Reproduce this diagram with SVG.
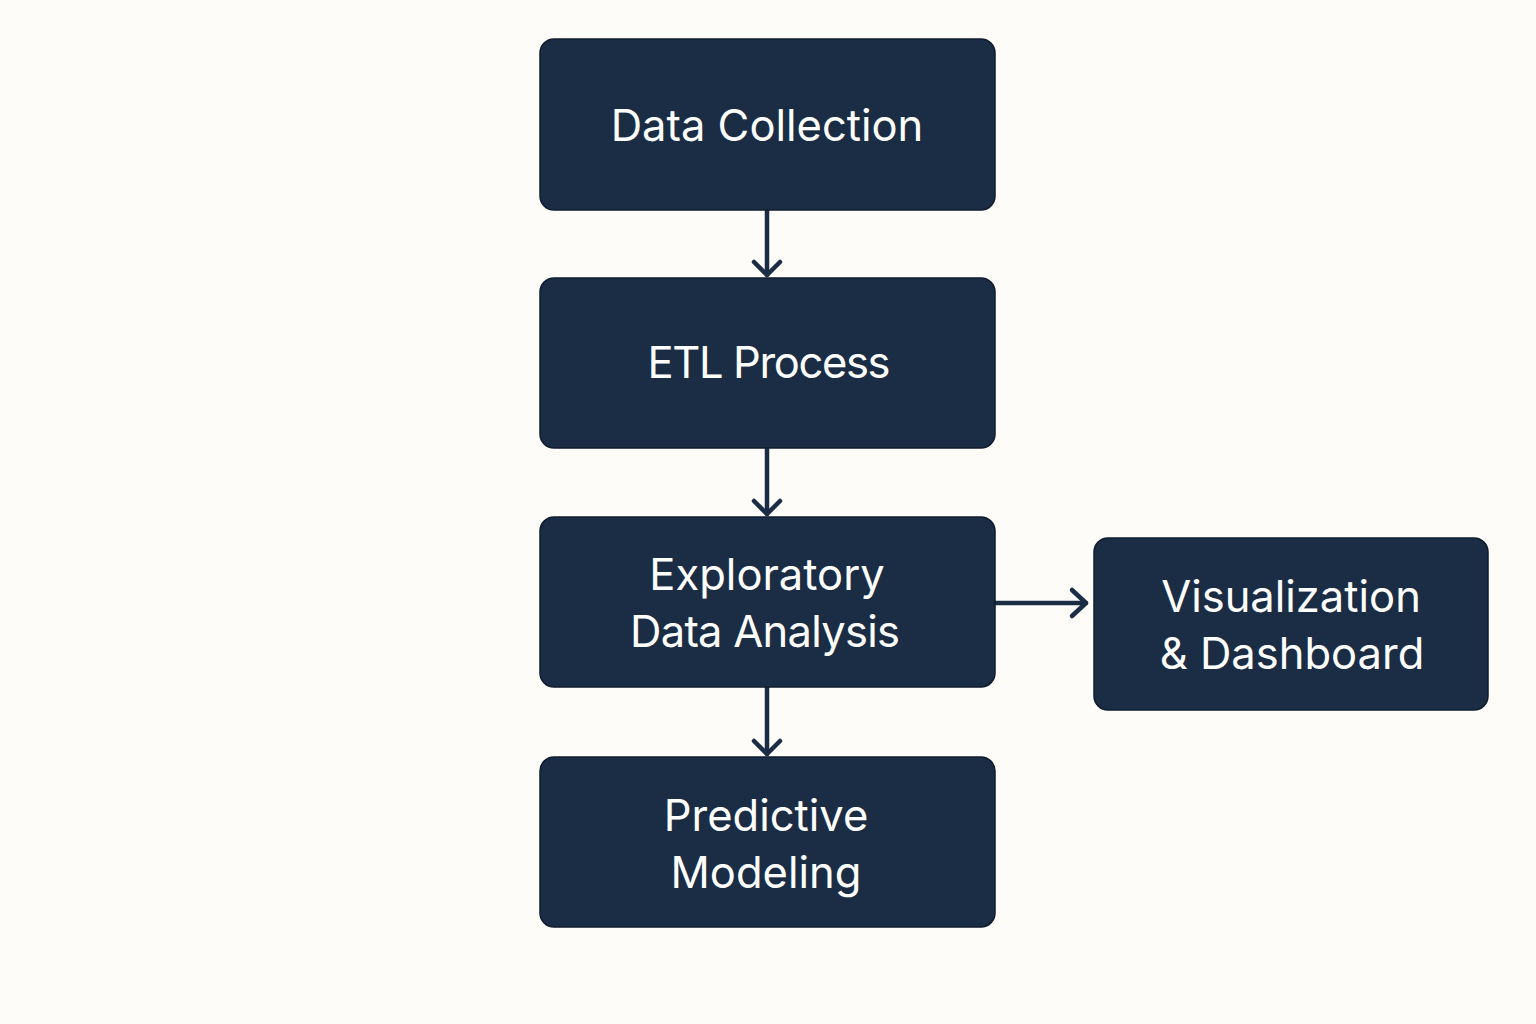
<svg xmlns="http://www.w3.org/2000/svg" width="1536" height="1024" viewBox="0 0 1536 1024">
<defs>
<style>
.box{fill:#1b2d45;stroke:#0f1c2e;stroke-width:1.5}
.lbl{fill:#ffffff;font-family:Inter,"Open Sans","Noto Sans",sans-serif;font-size:43.5px;text-anchor:middle}
.ln{stroke:#1b2d45;stroke-width:4.5;fill:none;stroke-linecap:round;stroke-linejoin:round}
</style>
</defs>
<rect width="1536" height="1024" fill="#fdfcf8"/>
<g id="connectors">
<path class="ln" d="M767 210 V275"/>
<path class="ln" d="M754 262 L767 275 L780 262"/>
<path class="ln" d="M767 448 V514"/>
<path class="ln" d="M754 501 L767 514 L780 501"/>
<path class="ln" d="M767 687 V754"/>
<path class="ln" d="M754 741 L767 754 L780 741"/>
<path class="ln" d="M995 603 H1086"/>
<path class="ln" d="M1072 590 L1086 603 L1072 616"/>
</g>
<g id="n1"><rect class="box" x="540" y="39" width="455" height="171" rx="14"/><text class="lbl" x="767" y="141">Data Collection</text></g>
<g id="n2"><rect class="box" x="540" y="278" width="455" height="170" rx="14"/><text class="lbl" x="769" y="378" textLength="243">ETL Process</text></g>
<g id="n3"><rect class="box" x="540" y="517" width="455" height="170" rx="14"/><text class="lbl" x="767" y="590">Exploratory</text><text class="lbl" x="765" y="647" textLength="270">Data Analysis</text></g>
<g id="n4"><rect class="box" x="540" y="757" width="455" height="170" rx="14"/><text class="lbl" x="766" y="831">Predictive</text><text class="lbl" x="766" y="888">Modeling</text></g>
<g id="n5"><rect class="box" x="1094" y="538" width="394" height="172" rx="14"/><text class="lbl" x="1291" y="612">Visualization</text><text class="lbl" x="1292" y="669">&amp; Dashboard</text></g>
</svg>
